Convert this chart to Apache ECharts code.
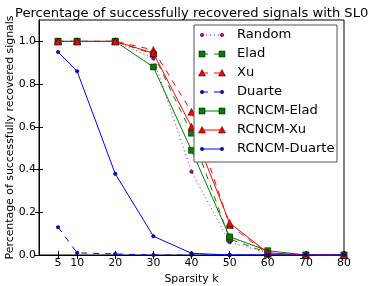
<!DOCTYPE html>
<html><head><meta charset="utf-8">
<script src="https://cdn.jsdelivr.net/npm/echarts@6/dist/echarts.min.js"></script>
<style>html,body{margin:0;padding:0;background:#fff}#c{width:374px;height:286px}</style>
</head><body><div id="c"></div>
<script>
const kValues = [5, 10, 20, 30, 40, 50, 60, 70, 80];
const yTicks = [0, 0.2, 0.4, 0.6, 0.8, 1.0];
const seriesNames = ['Random', 'Elad', 'Xu', 'Duarte', 'RCNCM-Elad', 'RCNCM-Xu', 'RCNCM-Duarte'];
const randomVals = [1, 1, 1, 0.92, 0.39, 0.06, 0.01, 0, 0];
const eladVals = [1, 1, 1, 0.94, 0.57, 0.075, 0.01, 0, 0];
const xuVals = [1, 1, 1, 0.96, 0.67, 0.14, 0.005, 0, 0];
const duarteVals = [0.13, 0.01, 0.005, 0, 0, 0, 0, 0, 0];
const rcEladVals = [1, 1, 1, 0.88, 0.49, 0.085, 0.02, 0, 0];
const rcXuVals = [1, 1, 1, 0.945, 0.60, 0.15, 0.01, 0, 0];
const rcDuarteVals = [0.95, 0.86, 0.38, 0.088, 0.008, 0, 0, 0, 0];

const allVals = [randomVals, eladVals, xuVals, duarteVals, rcEladVals, rcXuVals, rcDuarteVals];
const styles = [
  {color: '#bf00bf', type: [1, 3], symbol: 'circle', size: 3.5},
  {color: '#008000', type: [6, 6], symbol: 'rect', size: 6},
  {color: '#ff0000', type: [6, 6], symbol: 'triangle', size: 7},
  {color: '#0000ff', type: [6, 6], symbol: 'circle', size: 3.5},
  {color: '#008000', type: 'solid', symbol: 'rect', size: 6},
  {color: '#ff0000', type: 'solid', symbol: 'triangle', size: 7},
  {color: '#0000ff', type: 'solid', symbol: 'circle', size: 3.5}
];
const FONT = 'DejaVu Sans';

const series = seriesNames.map((n, i) => ({
  name: n, type: 'line',
  data: kValues.map((k, j) => [k, allVals[i][j]]),
  symbol: styles[i].symbol, symbolSize: styles[i].size, showAllSymbol: true,
  lineStyle: {color: styles[i].color, width: 1, type: styles[i].type},
  itemStyle: {color: styles[i].color, borderColor: '#000', borderWidth: 0.5},
  animation: false, z: 2 + i
}));

// legend drawn as graphic
const lg = [];
const lx = 194, ly = 25, lw = 143, lh = 137;
lg.push({type: 'rect', shape: {x: lx, y: ly, width: lw, height: lh},
  style: {fill: '#fff', stroke: '#555', lineWidth: 1}, z: 100});
seriesNames.forEach((n, i) => {
  const y = 35 + i * 19;
  const s = styles[i];
  lg.push({type: 'line', shape: {x1: 202, y1: y, x2: 222, y2: y},
    style: {stroke: s.color, lineWidth: 1, lineDash: s.type === 'solid' ? null : s.type}, z: 101});
  [202, 222].forEach(px => {
    let g;
    if (s.symbol === 'rect') g = {type: 'rect', shape: {x: px - 3, y: y - 3, width: 6, height: 6}};
    else if (s.symbol === 'triangle') g = {type: 'polygon', shape: {points: [[px, y - 3.5], [px + 3.5, y + 3], [px - 3.5, y + 3]]}};
    else g = {type: 'circle', shape: {cx: px, cy: y, r: 1.75}};
    g.style = {fill: s.color, stroke: '#000', lineWidth: 0.5};
    g.z = 102;
    lg.push(g);
  });
  lg.push({type: 'text', x: 237, y: y, style: {text: n, fill: '#000', font: '13.1px "' + FONT + '"', textVerticalAlign: 'middle'}, z: 102});
});
// y-axis title
lg.push({type: 'text', x: 10, y: 137.5, rotation: Math.PI / 2,
  style: {text: 'Percentage of successfully recovered signals', fill: '#000',
    font: '10.9px "' + FONT + '"', textAlign: 'center', textVerticalAlign: 'middle'}, z: 50});

const chart = echarts.init(document.getElementById('c'), null, {renderer: 'canvas'});
chart.setOption({
  animation: false,
  title: {text: 'Percentage of successfully recovered signals with SL0', left: 10, top: 2,
    textStyle: {fontFamily: FONT, fontSize: 13.1, fontWeight: 'normal', color: '#000'}},
  grid: {left: 39, right: 30, top: 20, bottom: 31, show: true, borderColor: '#000', borderWidth: 1,
    containLabel: false, outerBoundsMode: 'none'},
  xAxis: [{
    type: 'value', min: 0, max: 80, name: 'Sparsity k', nameLocation: 'middle', nameGap: 13,
    nameTextStyle: {fontFamily: FONT, fontSize: 10.9, color: '#000'},
    axisLine: {show: true, lineStyle: {color: '#000'}},
    axisTick: {show: true, inside: true, length: 4, customValues: kValues, lineStyle: {color: '#000'}},
    axisLabel: {customValues: kValues, fontFamily: FONT, fontSize: 10.9, color: '#000', margin: 3},
    splitLine: {show: false}
  }, {
    type: 'value', min: 0, max: 80, position: 'top',
    axisLine: {show: true, lineStyle: {color: '#000'}},
    axisTick: {show: true, inside: true, length: 4, customValues: kValues, lineStyle: {color: '#000'}},
    axisLabel: {show: false}, splitLine: {show: false}
  }],
  yAxis: [{
    type: 'value', min: 0, max: 1.1,
    axisLine: {show: true, lineStyle: {color: '#000'}},
    axisTick: {show: true, inside: true, length: 4, customValues: yTicks, lineStyle: {color: '#000'}},
    axisLabel: {customValues: yTicks, formatter: v => v.toFixed(1), fontFamily: FONT, fontSize: 10.9, color: '#000', margin: 3},
    splitLine: {show: false}
  }, {
    type: 'value', min: 0, max: 1.1, position: 'right',
    axisLine: {show: true, lineStyle: {color: '#000'}},
    axisTick: {show: true, inside: true, length: 4, customValues: yTicks, lineStyle: {color: '#000'}},
    axisLabel: {show: false}, splitLine: {show: false}
  }],
  series: series,
  graphic: lg
});
</script></body></html>
